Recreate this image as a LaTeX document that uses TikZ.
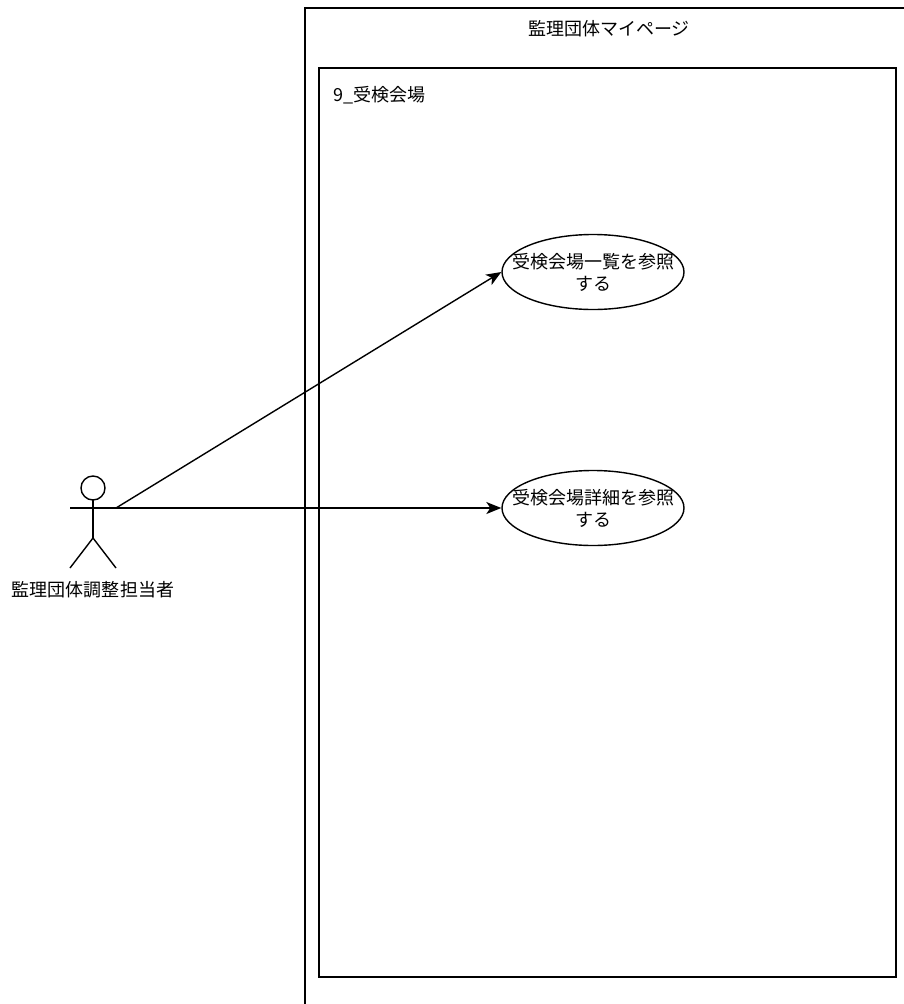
\documentclass[tikz,border=0pt]{standalone}
\usepackage{fontspec}
\setmainfont{Noto Sans CJK JP}
\usetikzlibrary{arrows.meta,shapes.geometric}

\begin{document}
\begin{tikzpicture}[
    x=1pt, y=-1pt,
    line width=1.4pt,
    every node/.style={font=\fontsize{18}{22}\selectfont, inner sep=0pt},
    frame/.style={draw},
    usecase/.style={draw, ellipse, minimum width=182pt, minimum height=75pt},
    uctext/.style={align=center},
    assoc/.style={-{Stealth[length=15pt, width=12pt, inset=4pt]}},
]
\useasboundingbox (0,0) rectangle (904,1004);
\clip (0,0) rectangle (904,1004);

\draw[frame] (305,8) rectangle (920,1020);
\node (title) at (609,29) {監理団体マイページ};
\draw[frame] (319,68) rectangle (896,977);
\node[anchor=west] (pkg) at (333,95) {9\_受検会場};

% actor
\draw (93,488) circle (12);
\draw (93,500) -- (93,538);
\draw (70,508) -- (116,508);
\draw (70,568) -- (93,538) -- (116,568);
\coordinate (actor) at (116,508);
\node (actorlabel) at (93,590) {監理団体調整担当者};

\node[usecase] (list) at (593,272) {};
\node[uctext] (listtext) at (list) {受検会場一覧を参照\\する};
\node[usecase] (detail) at (593,508) {};
\node[uctext] (detailtext) at (detail) {受検会場詳細を参照\\する};

\draw[assoc] (actor) -- (list.west);
\draw[assoc] (actor) -- (detail.west);
\end{tikzpicture}
\end{document}
